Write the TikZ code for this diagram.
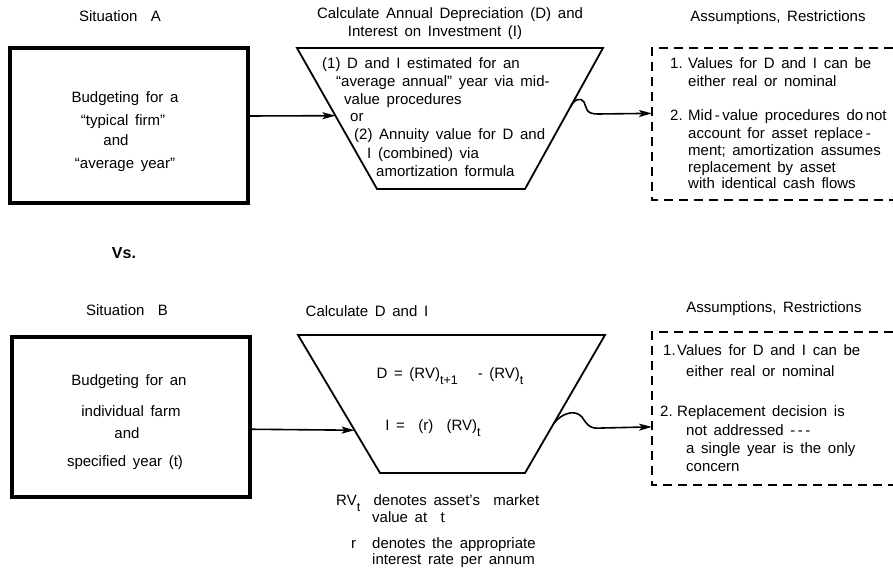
\documentclass[tikz,border=0pt]{standalone}
\usepackage{fontspec}
\setmainfont{Liberation Sans}[WordSpace=1.6]
\usetikzlibrary{arrows.meta,calc}
\newcommand{\lowsub}[1]{\raisebox{-6pt}{\fontsize{12.5}{12.5}\selectfont #1}}
\begin{document}
\begin{tikzpicture}[x=1pt,y=-1pt,
  every node/.style={font=\fontsize{15}{17}\selectfont, inner sep=0pt, text height=10.5pt, text depth=3pt},
  lbl/.style={anchor=west},
  thickbox/.style={draw, line width=3.5pt},
  trap/.style={draw, line width=1.8pt, line join=miter},
  dbox/.style={draw, line width=1.4pt, dash pattern=on 9pt off 6pt},
  flow/.style={line width=1.6pt, -{Stealth[length=13pt,width=7pt,inset=3pt]}},
]
\useasboundingbox (0,0) rectangle (893,567);

% ---------------- Situation A ----------------
\node (sitA) at (120,18) {Situation\ \ A};
\node (calcA1) at (450,15) {Calculate Annual Depreciation (D) and};
\node (calcA2) at (435,33) {Interest on Investment (I)};
\node (asA) at (778,18) {Assumptions, Restrictions};

\node[thickbox, minimum width=238pt, minimum height=155pt] (boxA) at (129,125.5) {};
\node (bA1) at (125,99) {Budgeting for a};
\node (bA2) at (123,122) {“typical firm”};
\node (bA3) at (116,142) {and};
\node (bA4) at (125,165) {“average year”};

\draw[trap] (297,48) coordinate (Atl) -- (603,48) coordinate (Atr)
  -- (525,189) coordinate (Abr) -- (377,189) coordinate (Abl) -- cycle;
\coordinate (Ain) at ($(Atl)!0.48!(Abl)$);
\coordinate (Aout) at ($(Atr)!0.42!(Abr)$);

\node[lbl] (tA1) at (322,65) {(1) D and I estimated for an};
\node[lbl] (tA2) at (336,83) {“average annual” year via mid-};
\node[lbl] (tA3) at (344,101) {value procedures};
\node[lbl] (tA4) at (350,118) {or};
\node[lbl] (tA5) at (354,136) {(2) Annuity value for D and};
\node[lbl] (tA6) at (367,155) {I (combined) via};
\node[lbl] (tA7) at (376,173) {amortization formula};

\draw[dbox] (893,48) coordinate (dAtr) -- (652,48) coordinate (dAtl)
  -- (652,200) coordinate (dAbl) -- (893,200) coordinate (dAbr);
\coordinate (dAin) at ($(dAtl)!0.43!(dAbl)$);

\node[lbl] (nA1) at (670,65) {1.};
\node[lbl] (dA1) at (688,65) {Values for D and I can be};
\node[lbl] (dA2) at (688,83) {either real or nominal};
\node[lbl] (nA2) at (670,117) {2.};
\node[lbl] (dA3) at (688,117) {Mid\,-\,value procedures do\,not};
\node[lbl] (dA4) at (688,135) {account for asset replace\,-};
\node[lbl] (dA5) at (688,152) {ment; amortization assumes};
\node[lbl] (dA6) at (688,169) {replacement by asset};
\node[lbl] (dA7) at (688,185) {with identical cash flows};

\draw[flow] ($(boxA.north east)!0.44!(boxA.south east)$) -- (Ain);
\draw[flow] (Aout) .. controls (574,99) and (581,97) .. (584,102)
  .. controls (587,108) and (585,114) .. (598,114) -- (dAin);

% ---------------- Vs. ----------------
\node[font=\fontsize{16}{18}\selectfont\bfseries] (vs) at (124,255) {Vs.};

% ---------------- Situation B ----------------
\node (sitB) at (127,312) {Situation\ \ B};
\node (calcB) at (367,313) {Calculate D and I};
\node (asB) at (774,309) {Assumptions, Restrictions};

\node[thickbox, minimum width=238pt, minimum height=160pt] (boxB) at (131,417) {};
\node (bB1) at (129,382) {Budgeting for an};
\node (bB2) at (131,413) {individual farm};
\node (bB3) at (127,435) {and};
\node (bB4) at (125,463) {specified year (t)};

\draw[trap] (298,335) coordinate (Btl) -- (605,335) coordinate (Btr)
  -- (525,473) coordinate (Bbr) -- (380,473) coordinate (Bbl) -- cycle;
\coordinate (Bin) at ($(Btl)!0.69!(Bbl)$);
\coordinate (Bout) at ($(Btr)!0.64!(Bbr)$);

\node (fB1) at (450,375) {D = (RV)\lowsub{t+1}\ \ \ - (RV)\lowsub{t}};
\node (fB2) at (433,427) {I = \ (r) \ (RV)\lowsub{t}};

\node[lbl] (rv1) at (336,502) {RV\lowsub{t}\ \ denotes asset's \ market};
\node[lbl] (rv2) at (372,519) {value at \ t};
\node[lbl] (r1) at (351,545) {r};
\node[lbl] (r2) at (372,545) {denotes the appropriate};
\node[lbl] (r3) at (372,561) {interest rate per annum};

\draw[dbox] (893,332) coordinate (dBtr) -- (652,332) coordinate (dBtl)
  -- (652,485) coordinate (dBbl) -- (893,485) coordinate (dBbr);
\coordinate (dBin) at ($(dBtl)!0.62!(dBbl)$);

\node[lbl] (nB1) at (663,352) {1.};
\node[lbl] (dB1) at (677,352) {Values for D and I can be};
\node[lbl] (dB2) at (686,373) {either real or nominal};
\node[lbl] (nB2) at (660,413) {2.};
\node[lbl] (dB3) at (677,413) {Replacement decision is};
\node[lbl] (dB4) at (686,432) {not addressed -\,-\,-};
\node[lbl] (dB5) at (686,450) {a single year is the only};
\node[lbl] (dB6) at (686,468) {concern};

\draw[flow] ($(boxB.north east)!0.575!(boxB.south east)$) -- (Bin);
\draw[flow] (Bout) .. controls (562,413) and (575,409) .. (582,417)
  .. controls (588,426) and (590,429) .. (602,428) -- (dBin);

\end{tikzpicture}
\end{document}
